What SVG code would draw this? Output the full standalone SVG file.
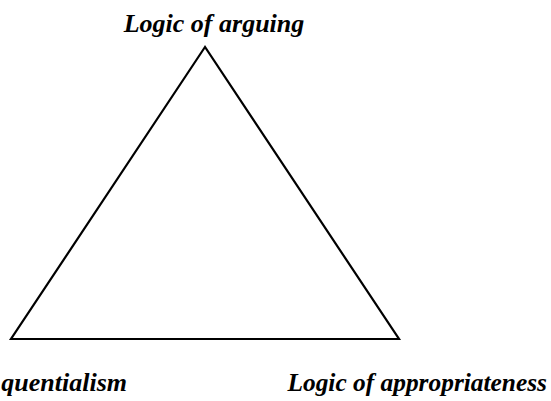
<svg xmlns="http://www.w3.org/2000/svg" width="551" height="401" viewBox="0 0 551 401">
<style>
.lbl{font-family:"Liberation Serif","Times New Roman",serif;font-weight:bold;font-style:italic;font-size:26px;fill:#000}
.edge{fill:none;stroke:#000;stroke-width:2.2;stroke-linejoin:miter}
</style>
<rect width="551" height="401" fill="#fff"/>
<g id="connectors">
<polygon class="edge" points="205,47 11,339 399,339"/>
</g>
<g id="node-top"><text class="lbl" x="214" y="32" text-anchor="middle">Logic of arguing</text></g>
<g id="node-left"><text class="lbl" x="127" y="391" text-anchor="end">quentialism</text></g>
<g id="node-right"><text class="lbl" x="547" y="391" text-anchor="end" style="font-size:25.4px">Logic of appropriateness</text></g>
</svg>
